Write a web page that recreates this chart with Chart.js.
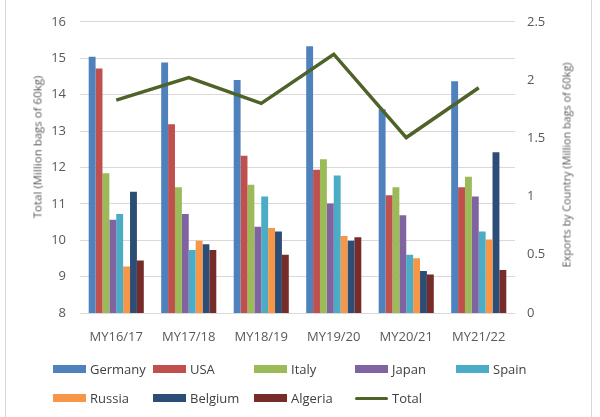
<!DOCTYPE html>
<html>
<head>
<meta charset="utf-8">
<script src="https://cdn.jsdelivr.net/npm/chart.js@4/dist/chart.umd.min.js"></script>
<style>
  html, body { margin:0; padding:0; background:#fff; }
  #wrap { position:relative; width:600px; height:417px; overflow:hidden; font-family:"Open Sans", sans-serif; }
  #frame { position:absolute; left:5px; top:-2px; width:587px; height:430px; border:1px solid #d9d9d9; box-sizing:border-box; }
  canvas { position:absolute; left:0; top:0; }
  .lg { position:absolute; display:flex; align-items:center; font-size:13px; color:#404040; white-space:nowrap; }
  .lg .bx { width:33px; height:8px; margin-right:4px; }
  .lg .ln { width:33px; height:3px; border-radius:2px; margin-right:4px; }
  .ttl { position:absolute; color:#595959; white-space:nowrap; transform:translate(-50%,-50%) rotate(-90deg); }
</style>
</head>
<body>
<div id="wrap">
  <div id="frame"></div>
  <canvas id="c" width="600" height="417"></canvas>
  <div class="ttl" id="tl" style="left:37px; top:147px; font-size:11.5px;">Total (Million bags of 60kg)</div>
  <div class="ttl" id="tr" style="left:566px; top:165px; font-size:10.8px;">Exports by Country (Million bags of 60kg)</div>
  <div id="legend"></div>
</div>
<script>
const categories = ["MY16/17","MY17/18","MY18/19","MY19/20","MY20/21","MY21/22"];
const germany = [2.20, 2.15, 2.00, 2.29, 1.75, 1.99];
const usa     = [2.10, 1.62, 1.35, 1.23, 1.01, 1.08];
const italy   = [1.20, 1.08, 1.10, 1.32, 1.08, 1.17];
const japan   = [0.80, 0.85, 0.74, 0.94, 0.84, 1.00];
const spain   = [0.85, 0.54, 1.00, 1.18, 0.50, 0.70];
const russia  = [0.40, 0.62, 0.73, 0.66, 0.47, 0.63];
const belgium = [1.04, 0.59, 0.70, 0.62, 0.36, 1.38];
const algeria = [0.45, 0.54, 0.50, 0.65, 0.33, 0.37];
const total   = [13.85, 14.47, 13.76, 15.11, 12.82, 14.19];
const leftTicks = [8, 16, 1];
const rightTicks = [0, 2.5, 0.5];

const countries = [
  ["Germany", germany, "#4F81BD"],
  ["USA", usa, "#C0504D"],
  ["Italy", italy, "#9BBB59"],
  ["Japan", japan, "#8064A2"],
  ["Spain", spain, "#4BACC6"],
  ["Russia", russia, "#F79646"],
  ["Belgium", belgium, "#2C4D75"],
  ["Algeria", algeria, "#772C2A"]
];
const totalColor = "#4F6228";

const datasets = countries.map(([name, data, color]) => ({
  type: "bar", label: name, data: data, backgroundColor: color,
  yAxisID: "yR", categoryPercentage: 0.76, barPercentage: 1.0, order: 2
}));
datasets.push({
  type: "line", label: "Total", data: total, borderColor: totalColor,
  borderWidth: 3.5, pointRadius: 0, tension: 0, yAxisID: "yL", order: 1
});

const tickFont = { family: "Open Sans", size: 13 };
new Chart(document.getElementById("c"), {
  data: { labels: categories, datasets },
  options: {
    responsive: false, animation: false,
    layout: { padding: { top: 13, bottom: 74, left: 0, right: 0 } },
    plugins: { legend: { display: false }, tooltip: { enabled: false } },
    scales: {
      x: {
        grid: { display: false }, border: { display: false },
        ticks: { font: tickFont, color: "#595959", padding: 8 },
        afterFit: s => { s.height = 30; }
      },
      yL: {
        position: "left", min: leftTicks[0], max: leftTicks[1],
        ticks: { stepSize: leftTicks[2], font: tickFont, color: "#595959", padding: 14 },
        grid: { color: "#d9d9d9", lineWidth: 1, drawTicks: false },
        border: { display: false },
        afterFit: s => { s.width = 80; }
      },
      yR: {
        position: "right", min: rightTicks[0], max: rightTicks[1],
        ticks: { stepSize: rightTicks[2], font: tickFont, color: "#595959", padding: 12,
                 callback: v => String(Math.round(v * 10) / 10) },
        grid: { display: false, drawTicks: false },
        border: { display: false },
        afterFit: s => { s.width = 85; }
      }
    }
  }
});

// HTML legend laid out in a grid like the original
const legend = document.getElementById("legend");
const items = countries.map(c => [c[0], c[2], false]).concat([["Total", totalColor, true]]);
const colX = [53, 153, 254, 355, 456];
const rowY = [369, 398];
items.forEach((it, i) => {
  const d = document.createElement("div");
  d.className = "lg";
  d.style.left = colX[i % 5] + "px";
  d.style.top = (rowY[Math.floor(i / 5)] - 10) + "px";
  d.style.height = "20px";
  const sw = document.createElement("span");
  sw.className = it[2] ? "ln" : "bx";
  sw.style.background = it[1];
  const tx = document.createElement("span");
  tx.textContent = it[0];
  d.appendChild(sw); d.appendChild(tx);
  legend.appendChild(d);
});
</script>
</body>
</html>
